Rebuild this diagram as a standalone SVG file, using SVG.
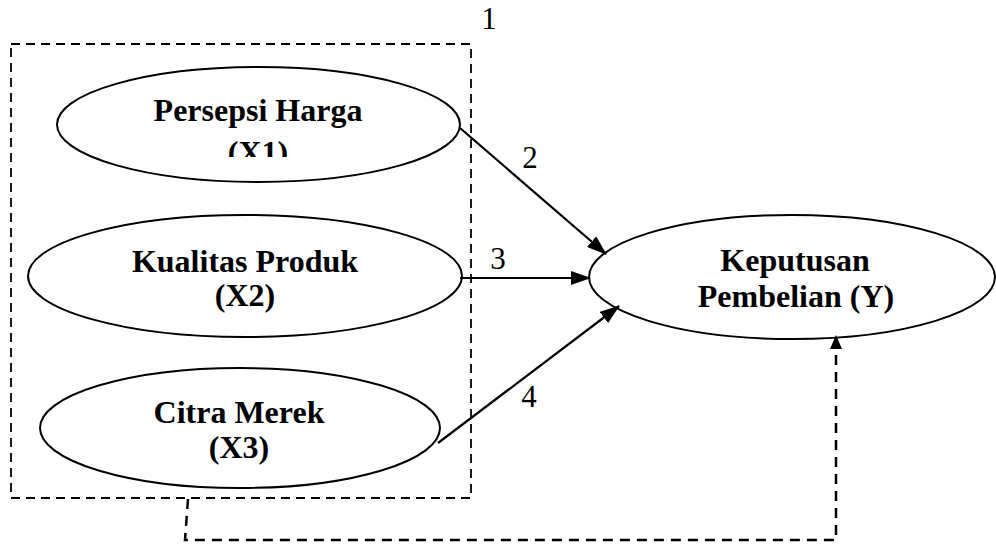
<svg xmlns="http://www.w3.org/2000/svg" width="996" height="545" viewBox="0 0 996 545">
<style>
.node{fill:#fff;stroke:#000;stroke-width:2}
.lbl{font-family:"Liberation Serif","Times New Roman",serif;font-weight:bold;font-size:32px;fill:#000;text-anchor:middle}
.num{font-family:"Liberation Serif","Times New Roman",serif;font-size:31px;fill:#000;text-anchor:middle}
.arr{fill:none;stroke:#000;stroke-width:2.2}
.dash{fill:none;stroke:#000;stroke-width:1.8;stroke-dasharray:9 6}
.dash2{fill:none;stroke:#000;stroke-width:2.5;stroke-dasharray:10 7}
</style>
<defs>
<marker id="ah" markerWidth="20" markerHeight="14" refX="19" refY="7" orient="auto" markerUnits="userSpaceOnUse"><path d="M0,0 L20,7 L0,14 z" fill="#000"/></marker>
<marker id="ah2" markerWidth="14" markerHeight="12" refX="13" refY="6" orient="auto" markerUnits="userSpaceOnUse"><path d="M0,0 L14,6 L0,12 z" fill="#000"/></marker>
<clipPath id="clipX1"><rect x="0" y="0" width="996" height="157"/></clipPath>
</defs>
<rect width="996" height="545" fill="#fff"/>
<g id="group-box">
<rect class="dash" x="11" y="44" width="460" height="454"/>
<text class="num" x="489" y="29">1</text>
</g>
<g id="node-x1">
<ellipse class="node" cx="258.5" cy="124.5" rx="201.5" ry="57.5"/>
<text class="lbl" x="258" y="121">Persepsi Harga</text>
<text class="lbl" x="258" y="163" clip-path="url(#clipX1)">(X1)</text>
</g>
<g id="node-x2">
<ellipse class="node" cx="245" cy="276" rx="217" ry="61"/>
<text class="lbl" x="245" y="272">Kualitas Produk</text>
<text class="lbl" x="245" y="306">(X2)</text>
</g>
<g id="node-x3">
<ellipse class="node" cx="240" cy="428" rx="200" ry="60"/>
<text class="lbl" x="239" y="423">Citra Merek</text>
<text class="lbl" x="239" y="458">(X3)</text>
</g>
<g id="node-y">
<ellipse class="node" cx="792" cy="277" rx="203" ry="62"/>
<text class="lbl" x="795" y="271">Keputusan</text>
<text class="lbl" x="796" y="307">Pembelian (Y)</text>
</g>
<g id="connectors">
<line class="arr" x1="460" y1="128" x2="606" y2="254" marker-end="url(#ah)"/>
<text class="num" x="530" y="168">2</text>
<line class="arr" x1="460" y1="278" x2="590" y2="278" marker-end="url(#ah)"/>
<text class="num" x="498" y="269">3</text>
<line class="arr" x1="438" y1="443" x2="619" y2="306" marker-end="url(#ah)"/>
<text class="num" x="529" y="407">4</text>
<path class="dash2" d="M188,499 L185,540 L836,540 L836,336" marker-end="url(#ah2)"/>
</g>
</svg>
